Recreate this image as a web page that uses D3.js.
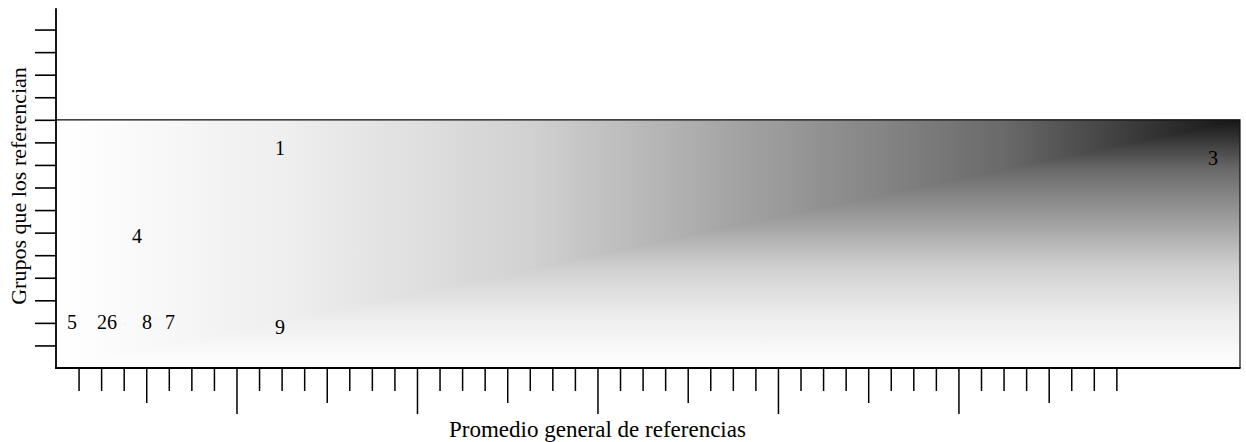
<!DOCTYPE html>
<html>
<head>
<meta charset="utf-8">
<script src="https://cdn.jsdelivr.net/npm/d3@7"></script>
<style>
  html, body { margin: 0; padding: 0; background: #fff; }
  svg { display: block; }
  text { font-family: "Liberation Serif", "Times New Roman", serif; fill: #000; }
</style>
</head>
<body>
<svg id="chart" width="1246" height="442"></svg>
<script>
// ---- data ----
const pointLabels = ["5", "26", "8", "7", "9", "4", "1", "3"];
const xValues     = [0.089, 0.283, 0.504, 0.632, 1.241, 0.449, 1.241, 6.41];
const yValues     = [2.02, 2.02, 2.02, 2.02, 1.82, 5.85, 9.73, 9.31];
const xTickValues = d3.range(1, 48).map(k => k * 0.125);   // 0.125 ... 5.875
const yTickValues = d3.range(1, 16);                        // 1 ... 15
const xTitle = "Promedio general de referencias";
const yTitle = "Grupos que los referencian";
const xDomain = [0, 6.56];
const yDomain = [0, 16];
const boxTopValue = 11;

// ---- layout ----
const svg = d3.select("#chart");
const x = d3.scaleLinear().domain(xDomain).range([56, 1240]);
const y = d3.scaleLinear().domain(yDomain).range([368, 7]);

const x0 = x(xDomain[0]), x1 = x(xDomain[1]);
const yB = y(0), yT = y(boxTopValue);

// shading ramp (0 = white, 1 = darkest)
const rampT = [0, 0.2, 0.4, 0.6, 0.8, 0.93, 1];
const rampG = [255, 238, 209, 157, 106, 50, 22];
const ramp = d3.scaleLinear().domain(rampT).range(rampG.map(g => d3.rgb(g, g, g)));

const defs = svg.append("defs");
function makeGrad(id, xa, ya, xb, yb) {
  const g = defs.append("linearGradient").attr("id", id)
    .attr("gradientUnits", "userSpaceOnUse")
    .attr("x1", xa).attr("y1", ya).attr("x2", xb).attr("y2", yb);
  d3.range(0, 1.0001, 0.025).forEach(t => {
    g.append("stop").attr("offset", t).attr("stop-color", ramp(t));
  });
}
makeGrad("gradH", x0, 0, x1, 0);
makeGrad("gradV", 0, yB, 0, yT);

// lower part: vertical gradient over whole box
svg.append("rect")
  .attr("x", x0).attr("y", yT).attr("width", x1 - x0).attr("height", yB - yT)
  .attr("fill", "url(#gradV)");
// upper triangle: horizontal gradient
svg.append("path")
  .attr("d", `M${x0},${yT}L${x1},${yT}L${x0},${yB}Z`)
  .attr("fill", "url(#gradH)");

// box frame (top and right)
svg.append("path")
  .attr("d", `M${x0},${yT}H${x1}V${yB}`)
  .attr("fill", "none").attr("stroke", "#111").attr("stroke-width", 1.2);

// y axis
const yAxis = d3.axisLeft(y).tickValues(yTickValues).tickSize(21).tickFormat("");
const gy = svg.append("g").attr("transform", `translate(${x0},0)`).call(yAxis);
gy.select(".domain").remove();
gy.selectAll(".tick line").attr("stroke", "#000").attr("stroke-width", 1.6);
svg.append("line")
  .attr("x1", x0).attr("x2", x0).attr("y1", y(15.95)).attr("y2", yB + 1)
  .attr("stroke", "#000").attr("stroke-width", 1.8);

// x axis
const xAxis = d3.axisBottom(x).tickValues(xTickValues).tickFormat("")
  .tickSize(23);
const gx = svg.append("g").attr("transform", `translate(0,${yB})`).call(xAxis);
gx.select(".domain").remove();
gx.selectAll(".tick line")
  .attr("stroke", "#000").attr("stroke-width", 1.5)
  .attr("y2", d => {
    const k = Math.round(d * 8);
    if (k % 8 === 0) return 46;
    if (k % 4 === 0) return 35;
    return 23;
  });
svg.append("line")
  .attr("x1", x0 - 1).attr("x2", x1 + 0.6).attr("y1", yB).attr("y2", yB)
  .attr("stroke", "#000").attr("stroke-width", 2);

// point labels
svg.append("g").selectAll("text")
  .data(pointLabels.map((l, i) => ({ l, xv: xValues[i], yv: yValues[i] })))
  .join("text")
  .attr("x", d => x(d.xv))
  .attr("y", d => y(d.yv))
  .attr("dy", "0.35em")
  .attr("text-anchor", "middle")
  .attr("font-size", 20)
  .text(d => d.l);

// titles
svg.append("text")
  .attr("x", x(3))
  .attr("y", 437)
  .attr("text-anchor", "middle")
  .attr("font-size", 23)
  .text(xTitle);

svg.append("text")
  .attr("transform", `translate(26,186) rotate(-90)`)
  .attr("text-anchor", "middle")
  .attr("font-size", 22)
  .text(yTitle);
</script>
</body>
</html>
